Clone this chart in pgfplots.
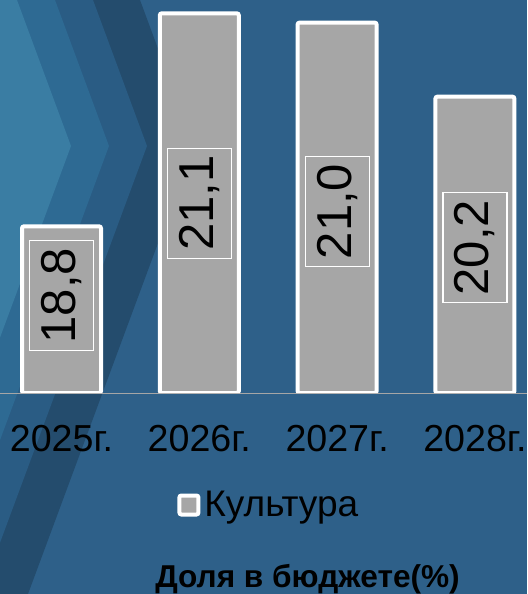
\documentclass[border=0pt]{standalone}
\usepackage{pgfplots}
\pgfplotsset{compat=1.18}
\usepackage{fontspec}
\setmainfont{Liberation Sans}

\definecolor{bgmain}{HTML}{2E6089}
\definecolor{bgdark}{HTML}{244C6D}
\definecolor{bgmid}{HTML}{2A5C84}
\definecolor{bgband}{HTML}{2E6A93}
\definecolor{bglight}{HTML}{3A7DA3}
\definecolor{barfill}{HTML}{A6A6A6}

\begin{document}
\begin{tikzpicture}
\useasboundingbox (0pt,-100.5pt) rectangle (263.5pt,196.5pt);
% background with the chevrons (px coordinates, y downwards)
\begin{scope}
  \clip (0pt,-100.5pt) rectangle (263.5pt,196.5pt);
  \fill[bgmain] (0pt,-100.5pt) rectangle (263.5pt,196.5pt);
  \begin{scope}[shift={(0pt,196.5pt)}, x=0.5pt, y=-0.5pt]
    \fill[bgdark]  (140,0) -- (194,146) -- (28,594) -- (-300,594) -- (-300,0) -- cycle;
    \fill[bgmid]   (93,0)  -- (147,146) -- (-19,594) -- (-300,594) -- (-300,0) -- cycle;
    \fill[bgband]  (55,0)  -- (109,146) -- (-57,594) -- (-300,594) -- (-300,0) -- cycle;
    \fill[bglight] (17,0)  -- (71,146)  -- (-95,594) -- (-300,594) -- (-300,0) -- cycle;
  \end{scope}
\end{scope}

\begin{axis}[
  at={(0pt,0pt)}, anchor=south west,
  scale only axis,
  width=263.5pt, height=196.5pt,
  xmin=-0.4463, xmax=3.378,
  ymin=17, ymax=21.244,
  axis x line*=bottom, axis y line=none,
  x axis line style={draw=black!35, line width=0.5pt},
  xtick={0,1,2,3},
  xticklabels={2025г.,2026г.,2027г.,2028г.},
  major tick length=0pt,
  x tick label style={anchor=base, yshift=-29pt, font=\fontsize{18.8}{22}\selectfont, text=black},
  ytick=\empty,
  clip mode=individual,
  legend style={at={(0.512,-0.285)}, anchor=center, draw=none, fill=none,
    font=\fontsize{18.5}{22}\selectfont, text=black},
  legend image code/.code={
    \draw[fill=barfill, draw=white, line width=2pt] (0pt,-4.75pt) rectangle (9.5pt,4.75pt);},
]
\addplot[ybar, bar width=39.5pt, bar shift=0pt, fill=barfill, draw=white,
  line width=2pt, rounded corners=1pt]
  coordinates {(0,18.8) (1,21.1) (2,21.0) (3,20.2)};
\addlegendentry{Культура}

% value labels, placed at the middle of each bar
\addplot[draw=none, mark=none, forget plot,
  point meta=explicit symbolic,
  nodes near coords,
  nodes near coords style={rotate=90, anchor=center, fill=barfill, draw=white,
    line width=0.6pt, minimum width=55pt, minimum height=32pt, inner sep=0pt,
    font=\fontsize{24.5}{29}\selectfont, text=black}]
  coordinates {(0,18.05) [{18,8}] (1,19.05) [{21,1}] (2,18.96) [{21,0}] (3,18.57) [{20,2}]};

\node[anchor=base, font=\bfseries\fontsize{15.8}{18}\selectfont, text=black]
  at (axis description cs:0.5835,-0.496) {Доля в бюджете(\%)};
\end{axis}
\end{tikzpicture}
\end{document}
